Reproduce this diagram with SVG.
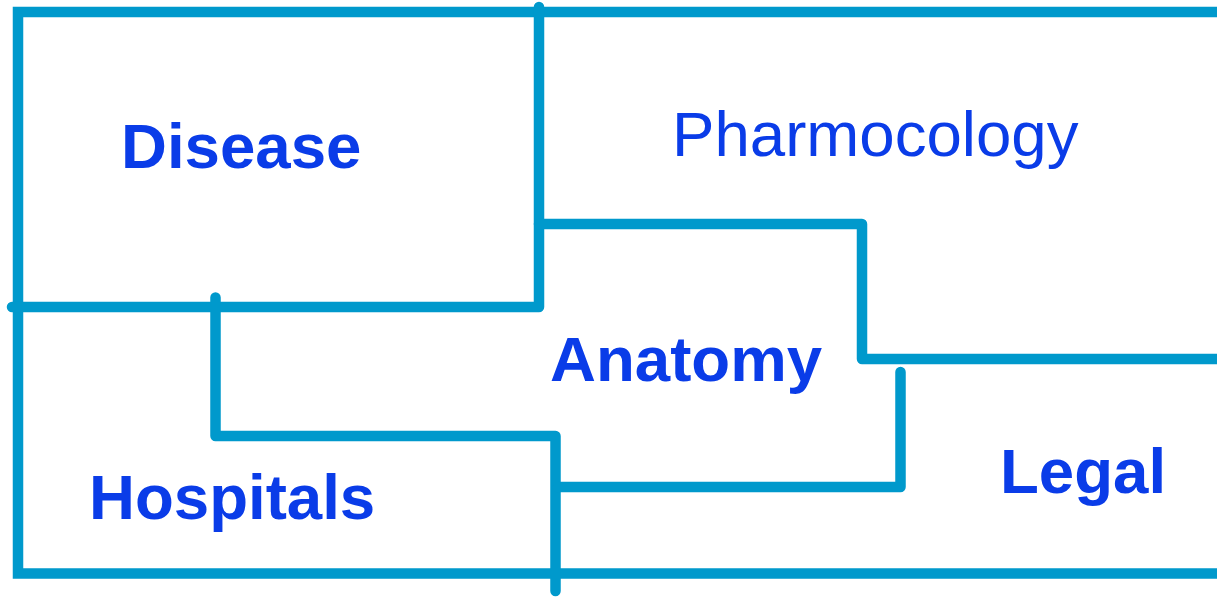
<svg xmlns="http://www.w3.org/2000/svg" width="1217" height="599" viewBox="0 0 1217 599">
  <style>
    .frame { fill: none; stroke: #0099cc; stroke-width: 10.5; stroke-linejoin: miter; stroke-linecap: butt; }
    .wall { fill: none; stroke: #0099cc; stroke-width: 10.5; stroke-linejoin: round; stroke-linecap: round; }
    .label { font-family: "Liberation Sans", Arial, sans-serif; font-size: 63.6px; fill: #0a3ce8; }
    .bold { font-weight: bold; }
  </style>
  <rect width="1217" height="599" fill="#ffffff"/>

  <g id="connectors">
    <!-- outer frame, open on the right -->
    <path class="frame" d="M1217 12 H18 V573.5 H1217"/>
    <!-- Disease region border -->
    <path class="wall" d="M539 7 V307 H12"/>
    <!-- Pharmocology / Anatomy border -->
    <path class="wall" d="M539 224 H862 V359 H1222"/>
    <!-- Hospitals / Anatomy border -->
    <path class="wall" d="M215.5 297.5 V436 H555.5 V591"/>
    <!-- Anatomy / Legal border -->
    <path class="wall" d="M900.5 372 V487 H558"/>
  </g>

  <g id="disease">
    <text class="label bold" x="121" y="168">Disease</text>
  </g>
  <g id="pharmocology">
    <text class="label" x="672" y="156">Pharmocology</text>
  </g>
  <g id="anatomy">
    <text class="label bold" x="550" y="381">Anatomy</text>
  </g>
  <g id="hospitals">
    <text class="label bold" x="89" y="519">Hospitals</text>
  </g>
  <g id="legal">
    <text class="label bold" x="1000" y="493">Legal</text>
  </g>
</svg>
